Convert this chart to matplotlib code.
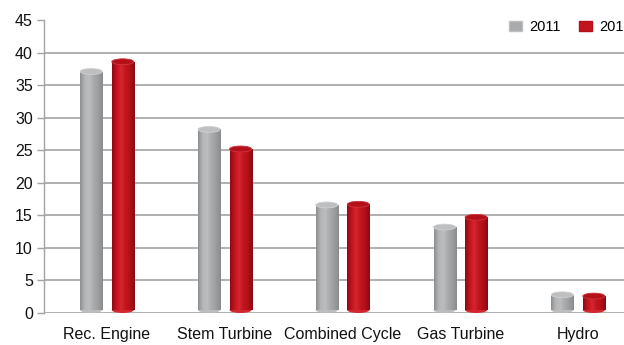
import numpy as np
import matplotlib.pyplot as plt
from matplotlib.colors import LinearSegmentedColormap
from matplotlib.patches import Ellipse, Patch

categories = ['Rec. Engine', 'Stem Turbine', 'Combined Cycle', 'Gas Turbine', 'Hydro']
vals_2011 = [37.1, 28.2, 16.6, 13.2, 2.8]
vals_2012 = [38.6, 25.2, 16.7, 14.7, 2.6]
yticks = [0, 5, 10, 15, 20, 25, 30, 35, 40, 45]

plt.rcParams['font.family'] = ['Liberation Sans', 'DejaVu Sans']

gray_cmap = LinearSegmentedColormap.from_list(
    'g', ['#8e8f91', '#b4b5b7', '#bcbdbf', '#a9aaac', '#9c9d9f', '#8a8b8d'])
red_cmap = LinearSegmentedColormap.from_list(
    'r', ['#8f0a12', '#c4141e', '#d4262e', '#c2141c', '#b0101a', '#8a0a10'])

fig = plt.figure(figsize=(6.24, 3.45), dpi=100)
ax = fig.add_axes([0.0705, 0.0928, 0.9295, 0.849])

x = np.arange(len(categories))
w = 0.187
off = 0.134
ell_h = 0.9

def cylinders(xpos, vals, cmap, top_col, edge_col):
    bars = ax.bar(xpos, np.array(vals) - ell_h / 2, w, bottom=ell_h / 2,
                  color='none', edgecolor='none', zorder=3)
    grad = np.linspace(0, 1, 64).reshape(1, -1)
    for b, v in zip(bars, vals):
        x0 = b.get_x()
        # rounded bottom
        bot = Ellipse((x0 + w / 2, ell_h / 2), w, ell_h, facecolor=cmap(0.4),
                      edgecolor='none', zorder=2.9)
        ax.add_patch(bot)
        im = ax.imshow(grad, cmap=cmap, aspect='auto', zorder=3,
                       extent=[x0, x0 + w, 0, v])
        im.set_clip_path(b)
        top = Ellipse((x0 + w / 2, v), w, ell_h, facecolor=top_col,
                      edgecolor=edge_col, linewidth=0.6, zorder=4)
        ax.add_patch(top)

cylinders(x - off, vals_2011, gray_cmap, '#bebfc1', '#cfd0d2')
cylinders(x + off, vals_2012, red_cmap, '#b3101a', '#d0343a')

ax.set_xlim(-0.535, 4.39)
ax.set_ylim(0, 45)
ax.set_yticks(yticks)
for t in yticks[:-1]:
    ax.axhline(t, color='#a3a3a3', linewidth=1.2, zorder=1)

ax.set_xticks(x)
ax.set_xticklabels(categories)
ax.tick_params(axis='x', length=0, pad=10, labelsize=11.5, colors='#111111')
ax.tick_params(axis='y', length=5, width=1, color='#a3a3a3', pad=3,
               labelsize=11.5, labelcolor='#111111')
for s in ['top', 'right', 'bottom']:
    ax.spines[s].set_visible(False)
ax.spines['left'].set_color('#a3a3a3')
ax.spines['left'].set_linewidth(1)

handles = [Patch(facecolor='#a9aaac', edgecolor='#bebfc1'),
           Patch(facecolor='#c4141e', edgecolor='#b3101a')]
fig.legend(handles, ['2011', '2012'], loc='upper left', ncol=2,
           bbox_to_anchor=(0.794, 0.98), frameon=False, fontsize=10.5,
           handlelength=0.9, handleheight=0.6, handletextpad=0.5,
           columnspacing=1.25)

fig.savefig('out.png', dpi=100)
